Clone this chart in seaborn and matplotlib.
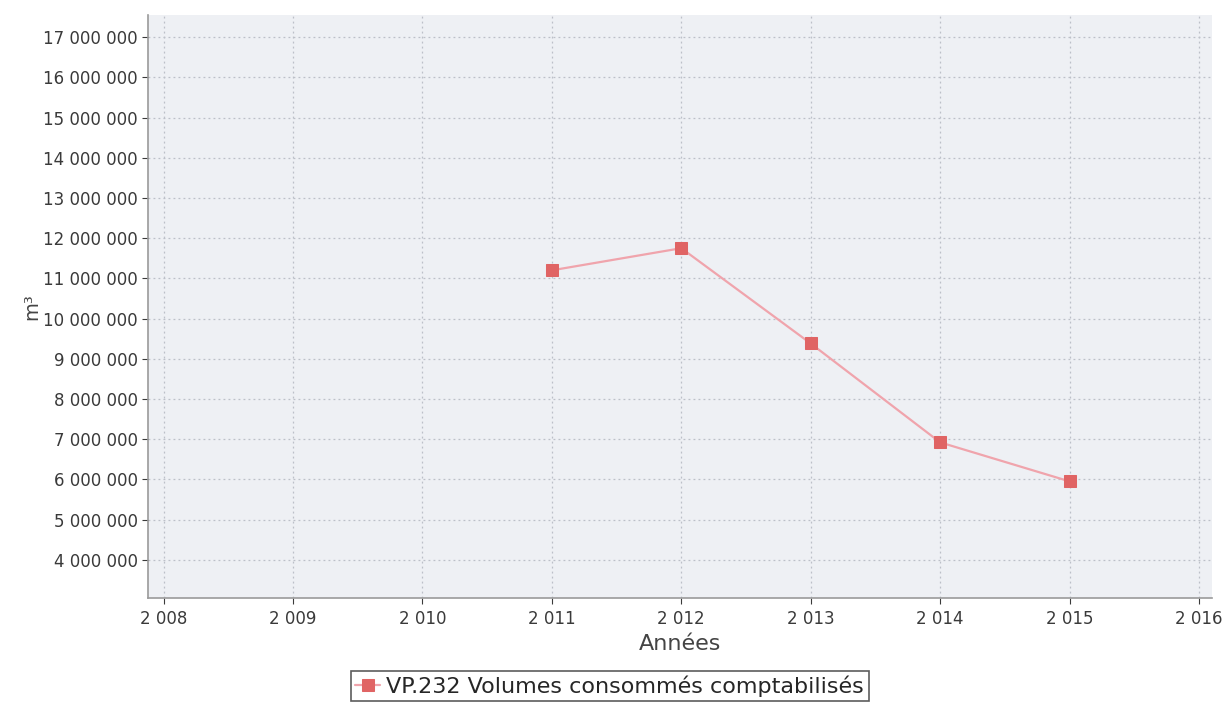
import matplotlib
matplotlib.use("Agg")
import matplotlib.pyplot as plt
import matplotlib.ticker as mticker
import seaborn as sns
import pandas as pd

YEARS = [2011, 2012, 2013, 2014, 2015]
VOLUMES = [11200000, 11750000, 9380000, 6920000, 5950000]
SERIES = "VP.232 Volumes consommés comptabilisés"
X_TICKS = list(range(2008, 2017))
Y_TICKS = list(range(4000000, 17000001, 1000000))

sns.set_style("whitegrid")
plt.rcParams["font.family"] = ["DejaVu Sans"]

df = pd.DataFrame({"year": YEARS, "volume": VOLUMES, "serie": SERIES})

fig = plt.figure(figsize=(12.25, 7.02), dpi=100)
ax = fig.add_axes([148 / 1225, 1 - 598 / 702, 1064 / 1225, 583 / 702])
ax.set_facecolor("#eef0f4")

sns.lineplot(data=df, x="year", y="volume", hue="serie", palette=["#f0a4ac"],
             marker="s", markersize=8, markerfacecolor="#e06464",
             markeredgecolor="#e06464", linewidth=1.6, ax=ax)

ax.set_xlim(2007.88, 2016.1)
ax.set_ylim(3050000, 17550000)
ax.set_xticks(X_TICKS)
ax.set_yticks(Y_TICKS)


def fmt_space(v, pos=None):
    return f"{int(round(v)):,}".replace(",", " ")


ax.xaxis.set_major_formatter(mticker.FuncFormatter(fmt_space))
ax.yaxis.set_major_formatter(mticker.FuncFormatter(fmt_space))
ax.tick_params(axis="both", labelsize=12, colors="#3a3a3a", length=4,
               direction="out", left=True, bottom=True)
ax.tick_params(axis="x", pad=5)
ax.grid(True, color="#bcc0c8", linestyle=(0, (1.5, 2.5)), linewidth=0.9)

for side in ["top", "right"]:
    ax.spines[side].set_visible(False)
for side in ["left", "bottom"]:
    ax.spines[side].set_color("#9a9a9a")
    ax.spines[side].set_linewidth(1.2)

ax.set_xlabel("Années", fontsize=16, color="#444444", labelpad=4)
ax.set_ylabel("m³", fontsize=14, color="#444444", labelpad=1)

handles, labels = ax.get_legend_handles_labels()
ax.legend(handles, labels, loc="upper center", bbox_to_anchor=(0.434, -0.125),
          frameon=True, fancybox=False, edgecolor="#333333", fontsize=16,
          handlelength=1.1, handletextpad=0.3, borderpad=0.2,
          borderaxespad=0)
ax.get_legend().get_frame().set_linewidth(1.2)

fig.savefig("out.png", dpi=100, facecolor="white")
